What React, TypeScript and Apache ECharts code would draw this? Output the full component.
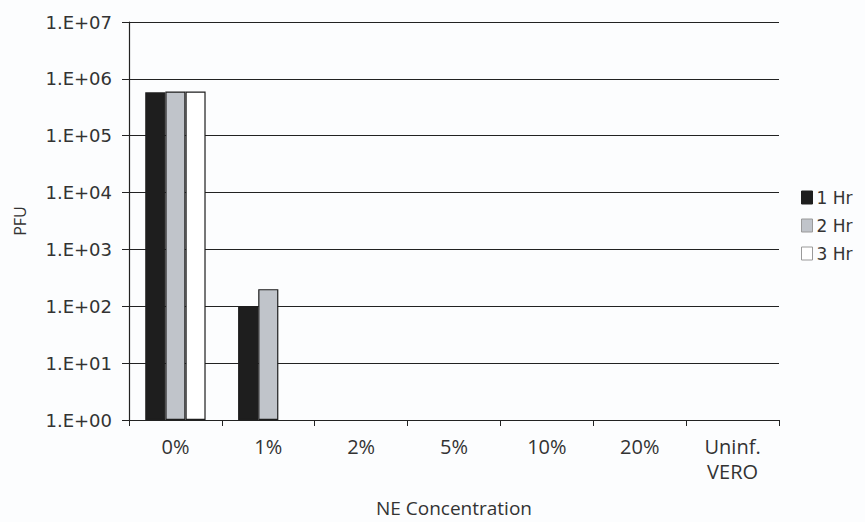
import React, { useEffect, useRef } from "react";
import * as echarts from "echarts";

const categories = ["0%", "1%", "2%", "5%", "10%", "20%", "Uninf.\nVERO"];
const seriesNames = ["1 Hr", "2 Hr", "3 Hr"];
const hr1 = [580000, 100, null, null, null, null, null];
const hr2 = [600000, 200, null, null, null, null, null];
const hr3 = [600000, null, null, null, null, null, null];
const seriesColors = ["#1e1e1e", "#c0c4ca", "#ffffff"];

export default function App() {
  const ref = useRef<HTMLDivElement>(null);
  useEffect(() => {
    if (!ref.current) return;
    const chart = echarts.init(ref.current, null, { renderer: "svg" });
    const data = [hr1, hr2, hr3];
    chart.setOption({
      animation: false,
      backgroundColor: "#fcfdfe",
      grid: { left: 129, right: 86, top: 22, bottom: 95, containLabel: false },
      legend: {
        orient: "vertical",
        left: 801,
        top: 189,
        padding: 0,
        icon: "rect",
        itemWidth: 11,
        itemHeight: 13,
        itemGap: 11,
        data: seriesNames.map((n) => ({ name: n, itemStyle: { borderColor: n === "1 Hr" ? "#1e1e1e" : "#9a9a9a", borderWidth: 1 } })),
        textStyle: { fontFamily: "DejaVu Sans", fontSize: 17, color: "#333", padding: [0, 0, 0, -1] },
      },
      xAxis: {
        type: "category",
        data: categories,
        name: "NE Concentration",
        nameLocation: "middle",
        nameGap: 78,
        nameTextStyle: { fontFamily: "Open Sans", fontSize: 19, color: "#333" },
        axisLine: { lineStyle: { color: "#222", width: 1.2 } },
        axisTick: { show: true, length: 6, lineStyle: { color: "#222" } },
        axisLabel: { fontFamily: "Open Sans", fontSize: 20, color: "#333", margin: 14, lineHeight: 25 },
      },
      yAxis: {
        type: "log",
        logBase: 10,
        min: 1,
        max: 10000000,
        interval: 1,
        name: "PFU",
        nameLocation: "middle",
        nameGap: 101,
        nameTextStyle: { fontFamily: "Open Sans", fontSize: 16, color: "#333" },
        axisLine: { show: true, lineStyle: { color: "#222", width: 1.2 } },
        axisTick: { show: true, length: 7, lineStyle: { color: "#222" } },
        axisLabel: {
          fontFamily: "DejaVu Sans",
          fontSize: 18,
          color: "#333",
          margin: 17,
          formatter: (v: number) => "1.E+" + String(Math.round(Math.log10(v))).padStart(2, "0"),
        },
        splitLine: { show: true, lineStyle: { color: "#222", width: 1.2 } },
      },
      series: seriesNames.map((name, i) => ({
        name,
        type: "bar",
        data: data[i],
        barGap: "0%",
        barCategoryGap: "35%",
        itemStyle: { color: seriesColors[i], borderColor: "#1e1e1e", borderWidth: 1.2 },
      })),
    });
    return () => chart.dispose();
  }, []);
  return <div ref={ref} style={{ position: "fixed", left: 0, top: 0, width: 865, height: 522 }} />;
}
